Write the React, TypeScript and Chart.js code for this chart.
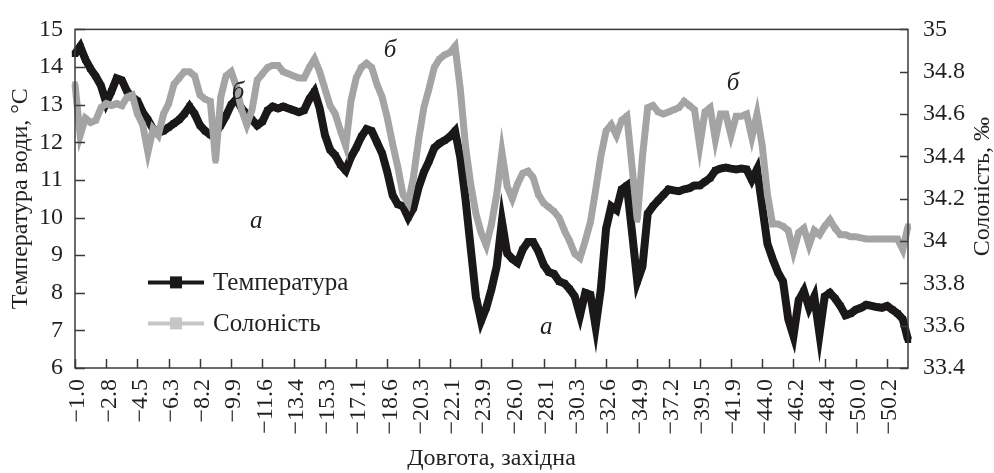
import React, { useEffect, useRef } from "react";
import { Chart, registerables } from "chart.js";

Chart.register(...registerables);

// X tick labels (longitude, west), one every 6 samples
const xTickLabels = [
  "−1.0", "−2.8", "−4.5", "−6.3", "−8.2", "−9.9", "−11.6", "−13.4", "−15.3",
  "−17.1", "−18.6", "−20.3", "−22.1", "−23.9", "−26.0", "−28.1", "−30.3",
  "−32.6", "−34.9", "−37.2", "−39.5", "−41.9", "−44.0", "−46.2", "−48.4",
  "−50.0", "−50.2",
];
const samplesPerTick = 6;

// Water temperature, °C
const temperature = [
  14.35, 14.55, 14.2, 13.95, 13.75, 13.5, 13.05, 13.35, 13.7, 13.65,
  13.35, 13.2, 13.1, 12.8, 12.6, 12.35, 12.25, 12.3, 12.4, 12.5,
  12.6, 12.75, 12.95, 12.75, 12.45, 12.3, 12.2, 12.25, 12.45, 12.7,
  13.0, 13.15, 12.9, 12.75, 12.6, 12.45, 12.55, 12.85, 12.95, 12.9,
  12.95, 12.9, 12.85, 12.8, 12.85, 13.15, 13.35, 12.9, 12.2, 11.8,
  11.65, 11.4, 11.25, 11.6, 11.85, 12.15, 12.35, 12.3, 12.0, 11.7,
  11.2, 10.6, 10.35, 10.3, 10.0, 10.25, 10.8, 11.2, 11.5, 11.85,
  11.97, 12.05, 12.15, 12.3, 11.6, 10.5, 9.2, 7.9, 7.25, 7.6,
  8.1, 8.7, 9.9, 9.05, 8.9, 8.8, 9.15, 9.35, 9.35, 9.1,
  8.75, 8.55, 8.5, 8.3, 8.25, 8.1, 7.9, 7.4, 8.0, 7.95,
  7.1, 8.1, 9.7, 10.3, 10.2, 10.75, 10.85, 9.6, 8.3, 8.7,
  10.1, 10.3, 10.45, 10.6, 10.75, 10.72, 10.7, 10.75, 10.78, 10.85,
  10.85, 10.95, 11.05, 11.25, 11.3, 11.33, 11.3, 11.28, 11.3, 11.28,
  11.0, 11.28, 10.3, 9.3, 8.9, 8.55, 8.3, 7.3, 6.85, 7.8,
  8.05, 7.6, 7.9, 6.9, 7.9, 8.0, 7.85, 7.65, 7.4, 7.45,
  7.55, 7.6, 7.68, 7.65, 7.62, 7.6, 7.65, 7.55, 7.45, 7.3,
  6.75,
];

// Salinity, ‰
const salinity = [
  34.74, 34.5, 34.58, 34.56, 34.57, 34.63, 34.65, 34.64, 34.65, 34.64,
  34.68, 34.69, 34.6, 34.55, 34.42, 34.53, 34.5, 34.6, 34.65, 34.74,
  34.77, 34.8, 34.8, 34.78, 34.69, 34.67, 34.66, 34.38, 34.68, 34.78,
  34.8, 34.73, 34.62, 34.55, 34.62, 34.76, 34.79, 34.82, 34.83, 34.83,
  34.8, 34.79, 34.78, 34.77, 34.77, 34.82, 34.86, 34.8, 34.72, 34.64,
  34.6, 34.52, 34.45, 34.66, 34.77, 34.82, 34.84, 34.82, 34.74, 34.68,
  34.58, 34.46, 34.35, 34.22, 34.18, 34.3, 34.48, 34.63, 34.72, 34.82,
  34.86, 34.88, 34.89, 34.92, 34.72, 34.45, 34.27, 34.13, 34.04, 33.98,
  34.08, 34.22, 34.42, 34.26, 34.2, 34.27, 34.32, 34.33, 34.3, 34.22,
  34.18, 34.16, 34.14, 34.11, 34.05, 34.0, 33.94, 33.92, 34.0, 34.09,
  34.24, 34.4, 34.52, 34.55, 34.5, 34.57, 34.59, 34.35, 34.1, 34.4,
  34.63, 34.64, 34.61, 34.6, 34.61, 34.62, 34.63, 34.66, 34.64, 34.62,
  34.45, 34.61, 34.63, 34.48, 34.6, 34.6, 34.5, 34.59, 34.59, 34.6,
  34.49, 34.6, 34.45, 34.22, 34.08, 34.08, 34.07, 34.05, 33.95, 34.04,
  34.06, 33.98, 34.05, 34.03, 34.07, 34.1, 34.06, 34.03, 34.03, 34.02,
  34.02, 34.015, 34.01, 34.01, 34.01, 34.01, 34.01, 34.01, 34.01, 33.96,
  34.07,
];

// Letter marks (sample index, temperature-axis value)
const letterMarks = [
  { text: "б", index: 31.3, value: 13.33 },
  { text: "б", index: 60.5, value: 14.44 },
  { text: "б", index: 126.4, value: 13.56 },
  { text: "а", index: 34.8, value: 9.9 },
  { text: "а", index: 90.5, value: 7.08 },
];

const SERIF = "'Liberation Serif', 'Times New Roman', serif";
const TEXT = "#231f20";
const BLACK = "#1a1818";
const GRAY = "#a4a4a4";
const LEGEND_GRAY = "#c6c6c6";

const labels = temperature.map((_, i) =>
  i % samplesPerTick === 0 ? xTickLabels[i / samplesPerTick] ?? "" : ""
);

const decorPlugin = {
  id: "decor",
  afterDraw(chart: any) {
    const { ctx, chartArea } = chart;
    const { left, right, top, bottom } = chartArea;
    const xs = chart.scales.x;
    const ys = chart.scales.y;
    const y1 = chart.scales.y1;
    ctx.save();
    ctx.strokeStyle = "#3a3a3a";
    ctx.lineWidth = 1.5;
    ctx.strokeRect(left, top, right - left, bottom - top);
    ctx.beginPath();
    ys.ticks.forEach((t: any) => {
      const py = Math.round(ys.getPixelForValue(t.value)) + 0.5;
      ctx.moveTo(left, py);
      ctx.lineTo(left + 10, py);
    });
    y1.ticks.forEach((t: any) => {
      const py = Math.round(y1.getPixelForValue(t.value)) + 0.5;
      ctx.moveTo(right - 8, py);
      ctx.lineTo(right, py);
    });
    labels.forEach((l, i) => {
      if (!l) return;
      const px = Math.round(xs.getPixelForValue(i)) + 0.5;
      ctx.moveTo(px, bottom);
      ctx.lineTo(px, bottom - 9);
    });
    ctx.stroke();

    // axis titles
    ctx.fillStyle = TEXT;
    ctx.font = `24px ${SERIF}`;
    ctx.textAlign = "center";
    ctx.textBaseline = "middle";
    ctx.save();
    ctx.translate(21, (top + bottom) / 2);
    ctx.rotate(-Math.PI / 2);
    ctx.fillText("Температура води, °С", 0, 0);
    ctx.restore();
    ctx.save();
    ctx.translate(983, (top + bottom) / 2 - 12);
    ctx.rotate(-Math.PI / 2);
    ctx.fillText("Солоність, ‰", 0, 0);
    ctx.restore();
    ctx.fillText("Довгота, західна", (left + right) / 2, 459);

    // legend
    const lx = left + 73;
    const rows = [
      { text: "Температура", color: BLACK, y: top + 253 },
      { text: "Солоність", color: LEGEND_GRAY, y: top + 294 },
    ];
    rows.forEach((r) => {
      ctx.strokeStyle = r.color;
      ctx.fillStyle = r.color;
      ctx.lineWidth = 4;
      ctx.beginPath();
      ctx.moveTo(lx, r.y);
      ctx.lineTo(lx + 56, r.y);
      ctx.stroke();
      ctx.fillRect(lx + 22, r.y - 6, 12, 12);
      ctx.fillStyle = TEXT;
      ctx.textAlign = "left";
      ctx.font = `25px ${SERIF}`;
      ctx.fillText(r.text, lx + 65, r.y + 1);
    });

    // letter marks
    ctx.font = `italic 25px ${SERIF}`;
    ctx.textAlign = "center";
    ctx.fillStyle = TEXT;
    letterMarks.forEach((m) => {
      ctx.fillText(m.text, xs.getPixelForValue(m.index), ys.getPixelForValue(m.value));
    });
    ctx.restore();
  },
};

export default function App() {
  const ref = useRef<HTMLCanvasElement | null>(null);
  useEffect(() => {
    document.body.style.margin = "0";
    const canvas = ref.current!;
    const tickFont = { family: SERIF, size: 24 };
    const chart = new Chart(canvas, {
      type: "line",
      data: {
        labels,
        datasets: [
          {
            label: "Солоність",
            data: salinity,
            yAxisID: "y1",
            borderColor: GRAY,
            backgroundColor: GRAY,
            borderWidth: 7,
            borderJoinStyle: "miter",
            pointStyle: "rect",
            pointRadius: 4,
            pointBorderWidth: 0,
            tension: 0,
            order: 0,
          },
          {
            label: "Температура",
            data: temperature,
            yAxisID: "y",
            borderColor: BLACK,
            backgroundColor: BLACK,
            borderWidth: 8,
            borderJoinStyle: "miter",
            pointStyle: "rect",
            pointRadius: 4.5,
            pointBorderWidth: 0,
            tension: 0,
            order: 1,
          },
        ],
      },
      options: {
        responsive: false,
        animation: false,
        devicePixelRatio: 1,
        layout: { padding: { top: 17, left: 0, right: 0, bottom: 0 } },
        plugins: { legend: { display: false }, tooltip: { enabled: false } },
        scales: {
          x: {
            type: "category",
            offset: false,
            grid: { display: false, drawTicks: false },
            border: { display: false },
            ticks: {
              autoSkip: false,
              minRotation: 90,
              maxRotation: 90,
              padding: 11,
              labelOffset: 3,
              font: tickFont,
              color: TEXT,
            },
            afterFit: (s: any) => {
              s.height = 105;
            },
          },
          y: {
            position: "left",
            min: 6,
            max: 15,
            grid: { display: false, drawTicks: false },
            border: { display: false },
            ticks: { stepSize: 1, padding: 12, font: tickFont, color: TEXT },
            afterFit: (s: any) => {
              s.width = 75;
            },
          },
          y1: {
            position: "right",
            min: 33.4,
            max: 35,
            grid: { display: false, drawTicks: false },
            border: { display: false },
            ticks: {
              stepSize: 0.2,
              padding: 15,
              font: tickFont,
              color: TEXT,
              callback: (v: any) => String(Math.round(Number(v) * 10) / 10),
            },
            afterFit: (s: any) => {
              s.width = 86;
            },
          },
        },
      },
      plugins: [decorPlugin],
    });
    return () => chart.destroy();
  }, []);
  return (
    <div style={{ width: 994, height: 473, background: "#fff" }}>
      <canvas ref={ref} width={994} height={473} />
    </div>
  );
}
